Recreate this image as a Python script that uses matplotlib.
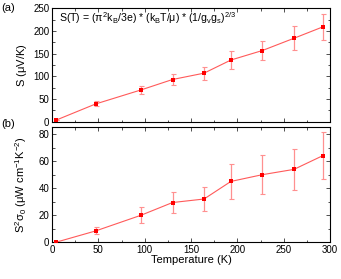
import matplotlib
matplotlib.use("Agg")
import matplotlib.pyplot as plt
from matplotlib.ticker import MultipleLocator

plt.rcParams["font.family"] = ["Liberation Sans", "DejaVu Sans"]
plt.rcParams["mathtext.fontset"] = "custom"
plt.rcParams["mathtext.rm"] = "Liberation Sans"
plt.rcParams["mathtext.it"] = "Liberation Sans"
plt.rcParams["mathtext.bf"] = "Liberation Sans"

# data
temperature = [4, 47, 96, 130, 164, 193, 227, 261, 292]
seebeck = [3, 39, 70, 93, 107, 136, 157, 184, 209]
seebeck_err = [0, 5.5, 9.5, 13, 14.7, 19.8, 22, 26.5, 29]
power = [0, 8.4, 20, 29.4, 32, 45, 50, 53.9, 64]
power_err = [0, 2.6, 5.8, 7.7, 8.8, 13, 14.3, 15.1, 17.4]

LINE_COLOR = "#FF5A5A"
ERR_COLOR = "#FF9090"
MARK_COLOR = "#FF0000"


def style_axis(ax):
    ax.tick_params(which="both", direction="in", top=True, right=True,
                   labelsize=7, color="#333333", pad=2)
    ax.tick_params(which="major", length=3, width=0.6)
    ax.tick_params(which="minor", length=1.8, width=0.6)
    for spine in ax.spines.values():
        spine.set_linewidth(0.8)
    ax.xaxis.set_major_locator(MultipleLocator(50))
    ax.xaxis.set_minor_locator(MultipleLocator(25))
    ax.set_xlim(0, 300)


def draw_series(ax, y, err):
    ax.errorbar(temperature, y, yerr=err, fmt="none", ecolor=ERR_COLOR,
                elinewidth=0.9, capsize=1.8, capthick=0.8, zorder=2)
    ax.plot(temperature, y, color=LINE_COLOR, linewidth=0.8, zorder=3)
    ax.plot(temperature, y, "s", color=MARK_COLOR, markersize=3,
            markeredgewidth=0, zorder=4)


fig = plt.figure(figsize=(3.41, 2.79), dpi=100)

ax1 = fig.add_axes([0.1525, 0.564, 0.8155, 0.406])
ax2 = fig.add_axes([0.1525, 0.1315, 0.8155, 0.4122])

style_axis(ax1)
draw_series(ax1, seebeck, seebeck_err)
ax1.set_ylim(0, 250)
ax1.yaxis.set_major_locator(MultipleLocator(50))
ax1.yaxis.set_minor_locator(MultipleLocator(25))
ax1.tick_params(labelbottom=False)
ax1.set_ylabel(r"S ($\mu$V/K)", fontsize=8)
ax1.text(0.025, 0.912,
         r"S(T) = ($\pi^2$k$_B$/3e) * (k$_B$T/$\mu$) * (1/g$_v$g$_s$)$^{2/3}$",
         transform=ax1.transAxes, fontsize=7.6, va="center", ha="left")

style_axis(ax2)
draw_series(ax2, power, power_err)
ax2.set_ylim(0, 85)
ax2.yaxis.set_major_locator(MultipleLocator(20))
ax2.yaxis.set_minor_locator(MultipleLocator(10))
ax2.set_xlabel("Temperature (K)", fontsize=8, labelpad=0)
ax2.set_ylabel(r"S$^2\sigma_0$ ($\mu$W cm$^{-1}$K$^{-2}$)", fontsize=8)

ax1.yaxis.set_label_coords(-0.083, 0.5)
ax2.yaxis.set_label_coords(-0.083, 0.5)

fig.text(0.005, 0.97, "(a)", fontsize=8, va="center", ha="left")
fig.text(0.005, 0.555, "(b)", fontsize=8, va="center", ha="left")

fig.savefig("out.png", dpi=100)
